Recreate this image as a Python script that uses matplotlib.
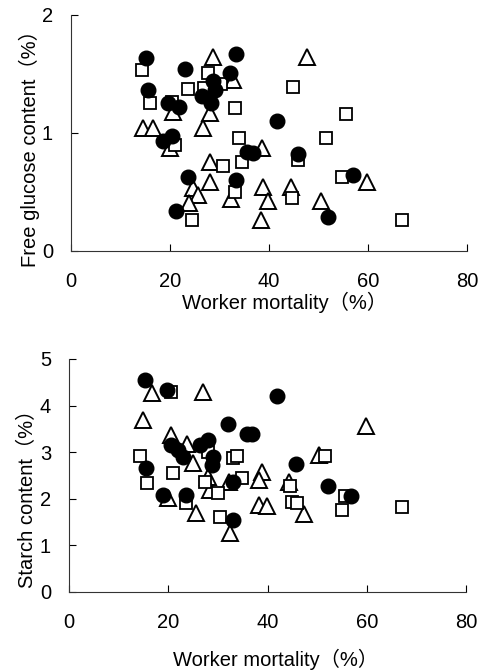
import matplotlib
matplotlib.use("Agg")
import matplotlib.pyplot as plt

plt.rcParams['font.family'] = ['Liberation Sans', 'Noto Sans CJK JP', 'DejaVu Sans']

# -----------------------------
# Data
# -----------------------------
# Free glucose panel
glu_circle_x = [15.1, 15.5, 23.0, 33.3, 32.1, 19.6, 21.8, 28.6, 29.0, 26.4, 28.2,
                41.7, 18.5, 20.4, 35.5, 36.7, 45.8, 23.6, 33.3, 21.2, 52.0, 56.9]
glu_circle_y = [1.63, 1.36, 1.54, 1.67, 1.51, 1.25, 1.22, 1.44, 1.36, 1.31, 1.25,
                1.10, 0.93, 0.97, 0.84, 0.83, 0.82, 0.63, 0.60, 0.34, 0.29, 0.64]

glu_square_x = [14.3, 15.9, 23.6, 27.6, 26.8, 30.2, 20.4, 33.1, 33.9, 21.0, 51.6,
                44.8, 55.6, 30.6, 34.5, 45.8, 54.8, 33.1, 44.6, 24.4, 66.9]
glu_square_y = [1.53, 1.25, 1.37, 1.51, 1.38, 1.41, 1.26, 1.21, 0.96, 0.90, 0.96,
                1.39, 1.16, 0.72, 0.75, 0.77, 0.63, 0.50, 0.45, 0.26, 0.26]

glu_tri_x = [28.6, 47.6, 32.7, 20.6, 28.0, 26.6, 14.5, 16.5, 19.9, 28.0, 28.0,
             24.6, 25.6, 23.8, 32.3, 38.5, 38.7, 44.4, 39.7, 38.3, 50.4, 59.7]
glu_tri_y = [1.64, 1.64, 1.45, 1.18, 1.17, 1.04, 1.04, 1.04, 0.87, 0.75, 0.58,
             0.53, 0.47, 0.41, 0.44, 0.87, 0.54, 0.54, 0.42, 0.26, 0.42, 0.58]

# Starch panel
sta_circle_x = [15.3, 19.7, 41.8, 32.0, 35.8, 36.8, 20.5, 21.9, 22.9, 26.4, 28.0,
                28.8, 29.0, 15.5, 45.7, 33.0, 18.9, 23.5, 33.0, 52.1, 56.9]
sta_circle_y = [4.55, 4.33, 4.21, 3.61, 3.39, 3.39, 3.15, 3.05, 2.90, 3.15, 3.26,
                2.73, 2.90, 2.66, 2.75, 2.36, 2.08, 2.08, 1.55, 2.27, 2.06]

sta_square_x = [20.5, 14.3, 28.0, 33.0, 33.8, 51.5, 20.9, 15.7, 27.4, 30.0, 34.8,
                44.5, 23.5, 30.4, 44.9, 45.9, 54.9, 55.5, 67.0]
sta_square_y = [4.29, 2.92, 3.00, 2.88, 2.92, 2.92, 2.55, 2.34, 2.36, 2.12, 2.45,
                2.27, 1.91, 1.61, 1.93, 1.91, 1.76, 2.06, 1.82]

sta_tri_x = [16.7, 27.0, 14.9, 20.5, 59.8, 23.7, 25.0, 50.3, 28.0, 28.4, 32.2,
             38.8, 38.2, 44.3, 19.9, 25.6, 32.4, 38.2, 39.8, 47.3]
sta_tri_y = [4.27, 4.29, 3.69, 3.37, 3.56, 3.18, 2.77, 2.94, 2.47, 2.19, 2.36,
             2.58, 2.40, 2.36, 2.02, 1.69, 1.27, 1.87, 1.85, 1.67]

xticks = [0, 20, 40, 60, 80]

# -----------------------------
# Plot
# -----------------------------
fig = plt.figure(figsize=(4.8, 6.71), dpi=100)
ax1 = fig.add_axes([0.148, 0.626, 0.825, 0.352])
ax2 = fig.add_axes([0.144, 0.118, 0.827, 0.347])


def style(ax, ymax, yticks, ylabel, xlab_pos, ylab_pos):
    ax.set_xlim(0, 80)
    ax.set_ylim(0, ymax)
    ax.set_xticks(xticks)
    ax.set_yticks(yticks)
    for s in ['top', 'right']:
        ax.spines[s].set_visible(False)
    for s in ['left', 'bottom']:
        ax.spines[s].set_linewidth(0.8)
        ax.spines[s].set_color('#333333')
    ax.tick_params(axis='x', direction='in', length=5, width=0.8, pad=15.5,
                   labelsize=14.5)
    ax.tick_params(axis='y', direction='in', length=5, width=0.8, pad=13,
                   labelsize=14.5)
    ax.set_xlabel('Worker mortality（%）', fontsize=14.5, va='center')
    ax.xaxis.set_label_coords(*xlab_pos)
    ax.set_ylabel(ylabel, fontsize=14.5, va='center')
    ax.yaxis.set_label_coords(-0.105, ylab_pos)


def scatter(ax, cx, cy, sx, sy, tx, ty):
    ax.plot(tx, ty, '^', ms=11, mfc='white', mec='black', mew=1.4,
            ls='none', clip_on=False)
    ax.plot(sx, sy, 's', ms=8, mfc='white', mec='black', mew=1.3,
            ls='none', clip_on=False)
    ax.plot(cx, cy, 'o', ms=10.5, mfc='black', mec='black',
            ls='none', clip_on=False)


scatter(ax1, glu_circle_x, glu_circle_y, glu_square_x, glu_square_y,
        glu_tri_x, glu_tri_y)
style(ax1, 2, [0, 1, 2], 'Free glucose content（%）', (0.538, -0.218), 0.455)

scatter(ax2, sta_circle_x, sta_circle_y, sta_square_x, sta_square_y,
        sta_tri_x, sta_tri_y)
style(ax2, 5, [0, 1, 2, 3, 4, 5], 'Starch content（%）', (0.52, -0.29), 0.42)

fig.savefig('out.png', dpi=100)
